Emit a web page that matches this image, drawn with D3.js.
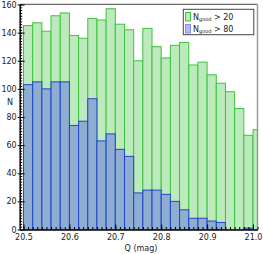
<!DOCTYPE html>
<html><head><meta charset="utf-8">
<script src="https://cdn.jsdelivr.net/npm/d3@7"></script>
<style>body{margin:0;background:#fff}svg{display:block;font-family:"DejaVu Sans",sans-serif}</style>
</head><body>
<script>
const binStart = 20.5, binWidth = 0.02;
const good20 = [145,147,141,152,154,138,136,150,149,157,146,142,120,143,130,122,131,133,117,119,110,104,98,86,67,71];
const good80 = [103,105,100,105,105,74,77,93,63,68,57,52,26,28,28,25,20,14,8,8,6,5,0,0,1,0];
const xTicks = [20.5,20.6,20.7,20.8,20.9,21.0];
const yTicks = [0,20,40,60,80,100,120,140,160];
const legendLabels = [["N","good"," > 20"],["N","good"," > 80"]];

const W = 263, H = 254;
const L = 19.7, R = 257.5, T = 4.5, B = 229.5;
const svg = d3.select("body").append("svg").attr("width", W).attr("height", H);
const x = d3.scaleLinear().domain([20.4917, 21.0098]).range([L, R]);
const y = d3.scaleLinear().domain([0, 160]).range([B, T]);

svg.append("clipPath").attr("id","c").append("rect").attr("x",L).attr("y",0).attr("width",R-L).attr("height",B);
const g = svg.append("g").attr("clip-path","url(#c)");

function bars(data, fill, stroke){
  g.append("g").selectAll("rect").data(data).join("rect")
    .attr("x",(d,i)=>x(binStart+i*binWidth))
    .attr("width",(d,i)=>x(binStart+(i+1)*binWidth)-x(binStart+i*binWidth))
    .attr("y",d=>y(d)).attr("height",d=>B-y(d))
    .attr("fill",fill).attr("stroke",stroke).attr("stroke-width",1)
    .attr("display",d=>d>0?null:"none");
}
bars(good20, "#bdeabd", "#3cc43c");
bars(good80, "#8eadd0", "#2244cc");

// frame
svg.append("line").attr("x1",L).attr("x2",R).attr("y1",4.3).attr("y2",4.3).attr("stroke","#444").attr("stroke-width",1);
svg.append("line").attr("x1",R).attr("x2",R).attr("y1",4.3).attr("y2",B).attr("stroke","#999").attr("stroke-width",1.5);

// axes
const ya = svg.append("g").attr("transform",`translate(${L},0)`)
  .call(d3.axisLeft(y).tickValues(yTicks).tickSize(-5).tickSizeOuter(0).tickPadding(3).tickFormat(d3.format("d")));
const yMinor = d3.range(0,161,2);
svg.append("g").attr("transform",`translate(${L},0)`)
  .call(d3.axisLeft(y).tickValues(yMinor).tickSize(-2.5).tickSizeOuter(0).tickFormat(""));
const xa = svg.append("g").attr("transform",`translate(0,${B})`)
  .call(d3.axisBottom(x).tickValues(xTicks).tickSize(-5).tickSizeOuter(0).tickPadding(5).tickFormat(d3.format(".1f")));
const xMinor = d3.range(0,52).map(i=>+(20.5+i*0.01).toFixed(2));
svg.append("g").attr("transform",`translate(0,${B})`)
  .call(d3.axisBottom(x).tickValues(xMinor).tickSize(-2.5).tickSizeOuter(0).tickFormat(""));
svg.selectAll(".domain").attr("stroke","#000");
svg.selectAll(".tick line").attr("stroke","#000");
svg.selectAll(".tick text").attr("font-size",8).attr("fill","#222").attr("font-family","DejaVu Sans");
// major y ticks also outward a bit
ya.selectAll(".tick").append("line").attr("x1",-2).attr("x2",0).attr("stroke","#000");

svg.append("text").attr("x",10).attr("y",105).attr("text-anchor","middle").attr("font-size",8).attr("fill","#222").text("N");
svg.append("text").attr("x",141).attr("y",250.5).attr("text-anchor","middle").attr("font-size",8).attr("fill","#222").text("Q (mag)");

// legend
const lg = svg.append("g");
lg.append("rect").attr("x",183.3).attr("y",9.3).attr("width",70.5).attr("height",25.4).attr("fill","#fff").attr("stroke","#444").attr("stroke-width",1);
const sw = [["#bdeabd","#3cc43c"],["#b4b6f6","#8a8cf0"]];
legendLabels.forEach((lab,i)=>{
  const yy = 12.5 + i*12;
  lg.append("rect").attr("x",185.5).attr("y",yy).attr("width",5).attr("height",8.5).attr("fill",sw[i][0]).attr("stroke",sw[i][1]).attr("stroke-width",1);
  const t = lg.append("text").attr("x",193).attr("y",yy+7).attr("font-size",8).attr("fill","#222");
  t.append("tspan").text(lab[0]);
  t.append("tspan").attr("font-size",5).attr("dy",1.5).text(lab[1]);
  t.append("tspan").attr("dy",-1.5).text(lab[2]);
});
</script>
</body></html>
